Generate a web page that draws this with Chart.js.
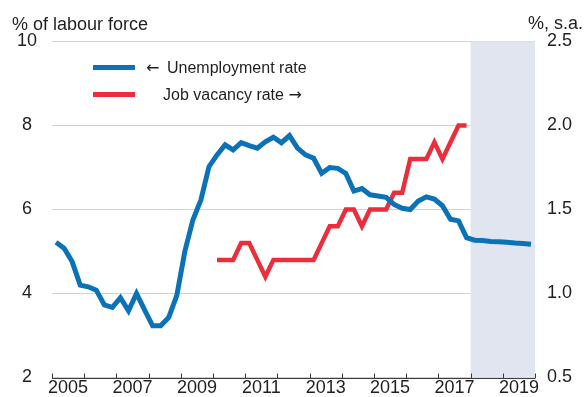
<!DOCTYPE html>
<html>
<head>
<meta charset="utf-8">
<script src="https://cdn.jsdelivr.net/npm/chart.js@4/dist/chart.umd.min.js"></script>
<style>
  html, body { margin: 0; padding: 0; background: #fff; }
  #wrap { width: 585px; height: 397px; position: relative; }
</style>
</head>
<body>
<div id="wrap"><canvas id="labourChart"></canvas></div>
<script>
// Time axis (years) and the start of the forecast period
const firstYear = 2005;
const lastYear = 2020;
const forecastStart = 2018;

// Quarterly unemployment rate, % of labour force, from 2005 Q1 (2018-19 is forecast)
const unemploymentStart = 2005;
const unemploymentRate = [
  5.22, 5.08, 4.76, 4.20,
  4.16, 4.08, 3.73, 3.67,
  3.90, 3.59, 4.00, 3.61,
  3.23, 3.23, 3.43, 3.95,
  5.00, 5.75, 6.23, 7.02,
  7.30, 7.54, 7.42, 7.59,
  7.52, 7.46, 7.61, 7.72,
  7.59, 7.76, 7.46, 7.30,
  7.22, 6.86, 7.00, 6.98,
  6.86, 6.44, 6.50, 6.35,
  6.32, 6.29, 6.12, 6.03,
  6.00, 6.20, 6.30, 6.25,
  6.09, 5.77, 5.73, 5.33,
  5.27, 5.26, 5.24, 5.23,
  5.22, 5.20, 5.19, 5.17,
];

// Quarterly job vacancy rate, %, s.a., from 2010 Q1
const vacancyStart = 2010;
const jobVacancyRate = [
  1.2, 1.2, 1.2, 1.3,
  1.3, 1.2, 1.1, 1.2,
  1.2, 1.2, 1.2, 1.2,
  1.2, 1.3, 1.4, 1.4,
  1.5, 1.5, 1.4, 1.5,
  1.5, 1.5, 1.6, 1.6,
  1.8, 1.8, 1.8, 1.9,
  1.8, 1.9, 2.0, 2.0,
];

// Legend entries, split so the arrows can use a font with wider arrow glyphs
const seriesNames = ['Unemployment rate', 'Job vacancy rate'];
const seriesArrows = ['\u2190', '\u2192'];
const leftTitle = '% of labour force';
const rightTitle = '%, s.a.';

const colors = {
  unemployment: '#0b72b8',
  vacancy: '#ec2d3b',
  shade: '#e1e5ef',
  grid: '#d3d3d3',
  axis: '#3a3a3a',
  text: '#1f1f1f',
};
const fontFamily = '"Liberation Sans", Arial, Helvetica, sans-serif';
const arrowFamily = '"DejaVu Sans", sans-serif';

/**
 * Place each quarterly value at the middle of its quarter
 */
function toPoints(startYear, values) {
  return values.map((v, i) => ({
    x: startYear + Math.floor(i / 4) + ((i % 4) + 0.5) / 4,
    y: v,
  }));
}

// Shaded forecast period, drawn above the grid and under the lines
const forecastShade = {
  id: 'forecastShade',
  beforeDatasetsDraw(chart) {
    const { ctx, chartArea, scales } = chart;
    const x0 = scales.x.getPixelForValue(forecastStart);
    const x1 = scales.x.getPixelForValue(lastYear);
    ctx.save();
    ctx.fillStyle = colors.shade;
    ctx.fillRect(x0, chartArea.top, x1 - x0, chartArea.bottom - chartArea.top);
    ctx.restore();
  },
};

// Baseline with small inward tick marks at each year boundary
const yearMarks = {
  id: 'yearMarks',
  afterDatasetsDraw(chart) {
    const { ctx, chartArea, scales } = chart;
    const y = Math.round(chartArea.bottom) + 0.5;
    ctx.save();
    ctx.strokeStyle = colors.axis;
    ctx.lineWidth = 1;
    ctx.beginPath();
    ctx.moveTo(chartArea.left, y);
    ctx.lineTo(chartArea.right, y);
    for (let yr = firstYear; yr <= lastYear; yr++) {
      const x = Math.round(scales.x.getPixelForValue(yr)) + 0.5;
      ctx.moveTo(x, y);
      ctx.lineTo(x, y - 5);
    }
    ctx.stroke();
    ctx.restore();
  },
};

// Axis unit titles and the in-chart legend
const annotations = {
  id: 'annotations',
  afterDraw(chart) {
    const { ctx } = chart;
    ctx.save();
    ctx.fillStyle = colors.text;
    ctx.textBaseline = 'alphabetic';
    ctx.textAlign = 'left';
    ctx.font = `18px ${fontFamily}`;
    ctx.fillText(leftTitle, 12, 29.5);
    ctx.fillText(rightTitle, 528, 29);

    const rows = [
      { color: colors.unemployment, y: 67.5 },
      { color: colors.vacancy, y: 94.5 },
    ];
    rows.forEach((r) => {
      ctx.strokeStyle = r.color;
      ctx.lineWidth = 5;
      ctx.lineCap = 'butt';
      ctx.beginPath();
      ctx.moveTo(93, r.y);
      ctx.lineTo(135, r.y);
      ctx.stroke();
    });

    const base0 = rows[0].y + 5.5;
    const base1 = rows[1].y + 5.5;
    ctx.font = `16px ${arrowFamily}`;
    ctx.fillText(seriesArrows[0], 146, base0);
    ctx.font = `16px ${fontFamily}`;
    ctx.fillText(seriesNames[0], 167, base0);
    ctx.fillText(seriesNames[1], 163, base1);
    const w = ctx.measureText(seriesNames[1] + ' ').width;
    ctx.font = `16px ${arrowFamily}`;
    ctx.fillText(seriesArrows[1], 163 + w, base1);
    ctx.restore();
  },
};

const ctx = document.getElementById('labourChart');
new Chart(ctx, {
  type: 'line',
  data: {
    datasets: [
      {
        label: seriesArrows[0] + ' ' + seriesNames[0],
        data: toPoints(unemploymentStart, unemploymentRate),
        yAxisID: 'y',
        borderColor: colors.unemployment,
        borderWidth: 5,
        pointRadius: 0,
        tension: 0,
        fill: false,
      },
      {
        label: seriesNames[1] + ' ' + seriesArrows[1],
        data: toPoints(vacancyStart, jobVacancyRate),
        yAxisID: 'y2',
        borderColor: colors.vacancy,
        borderWidth: 4.5,
        pointRadius: 0,
        tension: 0,
        fill: false,
      },
    ],
  },
  options: {
    responsive: true,
    maintainAspectRatio: false,
    animation: false,
    layout: {
      autoPadding: false,
      padding: { top: 41.5, left: 0, right: 0, bottom: 0 },
    },
    plugins: {
      legend: { display: false },
      tooltip: { enabled: false },
    },
    scales: {
      x: {
        type: 'linear',
        min: firstYear,
        max: lastYear,
        grid: { display: false, drawTicks: false },
        border: { display: false },
        ticks: {
          stepSize: 1,
          autoSkip: false,
          maxRotation: 0,
          padding: 0,
          labelOffset: 16.1,
          color: colors.text,
          font: { family: fontFamily, size: 18 },
          callback: (v) => (v % 2 === 1 && v < lastYear ? String(v) : ''),
        },
        afterFit: (scale) => { scale.height = 19.5; },
      },
      y: {
        position: 'left',
        min: 2,
        max: 10,
        // invisible tick marks keep the labels clear of the plot
        grid: { color: colors.grid, lineWidth: 1, drawTicks: true, tickLength: 15, tickColor: 'rgba(0,0,0,0)' },
        border: { display: false },
        ticks: {
          stepSize: 2,
          padding: 0,
          crossAlign: 'center',
          color: colors.text,
          font: { family: fontFamily, size: 18 },
        },
        afterFit: (scale) => { scale.width = 52; },
      },
      y2: {
        position: 'right',
        min: 0.5,
        max: 2.5,
        grid: { display: false, drawTicks: true, tickLength: 12 },
        border: { display: false },
        ticks: {
          stepSize: 0.5,
          padding: 0,
          color: colors.text,
          font: { family: fontFamily, size: 18 },
          callback: (v) => v.toFixed(1),
        },
        afterFit: (scale) => { scale.width = 50; },
      },
    },
  },
  plugins: [forecastShade, yearMarks, annotations],
});
</script>
</body>
</html>
